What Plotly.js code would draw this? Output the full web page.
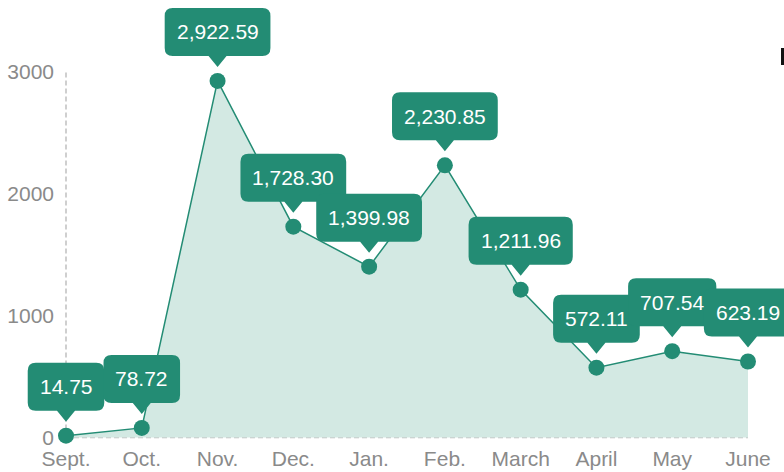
<!DOCTYPE html>
<html>
<head>
<meta charset="utf-8">
<script src="https://cdn.plot.ly/plotly-3.0.1.min.js"></script>
<style>html,body{margin:0;padding:0;background:#fff;}#chart{width:784px;height:472px;}</style>
</head>
<body>
<div id="chart"></div>
<script>
const months = ['Sept.','Oct.','Nov.','Dec.','Jan.','Feb.','March','April','May','June'];
const values = [14.75, 78.72, 2922.59, 1728.30, 1399.98, 2230.85, 1211.96, 572.11, 707.54, 623.19];
const yTicks = [0, 1000, 2000, 3000];

const TEAL = '#238c74';
const FILL = '#d3e9e3';
const FONT = 'Liberation Sans, Arial, sans-serif';
const LABEL_SIZE = 21;

const labels = values.map(v => v.toLocaleString('en-US', {minimumFractionDigits: 2, maximumFractionDigits: 2}));

const W = 784, H = 472;
const xLeftPx = 66, xRightPx = 748, y0Px = 437.5, y3000Px = 71.5;
const pxPerCat = (xRightPx - xLeftPx) / (months.length - 1);
const pxPerUnit = (y0Px - y3000Px) / yTicks[yTicks.length - 1];
const xRange = [-xLeftPx / pxPerCat, (months.length - 1) + (W - xRightPx) / pxPerCat];
const yRange = [-(H - y0Px) / pxPerUnit, y0Px / pxPerUnit];

const ctx = document.createElement('canvas').getContext('2d');
ctx.font = LABEL_SIZE + 'px "Liberation Sans"';

const shapes = [];
const annotations = [];
// dashed axis lines
shapes.push({type:'line', xref:'x', yref:'y', x0:months[0], x1:months[0], y0:yTicks[0], y1:yTicks[yTicks.length-1],
  line:{color:'#c0c0c0', width:1.5, dash:'5px,3px'}, layer:'below'});
shapes.push({type:'line', xref:'x', yref:'y', x0:months[0], x1:months[months.length-1], y0:0, y1:0,
  line:{color:'#c0c0c0', width:1.5, dash:'5px,3px'}, layer:'below'});
// cut-off legend mark at top right
shapes.push({type:'rect', xref:'paper', yref:'paper', x0:781/W, x1:1.01, y0:1-65/H, y1:1-48/H,
  fillcolor:'#111', line:{width:0}});

function callout(hw) {
  const r = 8, top = 73, bot = 25, tip = 14, pw = 9;
  return `M ${-hw+r},${top} L ${hw-r},${top} Q ${hw},${top} ${hw},${top-r} L ${hw},${bot+r} Q ${hw},${bot} ${hw-r},${bot} ` +
         `L ${pw},${bot} L 0,${tip} L ${-pw},${bot} L ${-hw+r},${bot} Q ${-hw},${bot} ${-hw},${bot+r} ` +
         `L ${-hw},${top-r} Q ${-hw},${top} ${-hw+r},${top} Z`;
}

months.forEach((m, i) => {
  const tw = ctx.measureText(labels[i]).width;
  const hw = tw / 2 + 12;
  shapes.push({type:'path', xref:'x', yref:'y', xsizemode:'pixel', ysizemode:'pixel',
    xanchor:m, yanchor:values[i], path:callout(hw), fillcolor:TEAL, line:{width:0}, layer:'above'});
  annotations.push({x:m, y:values[i], xref:'x', yref:'y', text:labels[i], showarrow:false,
    yshift:49, xanchor:'center', yanchor:'middle', font:{family:FONT, size:LABEL_SIZE, color:'#ffffff'}});
});

const trace = {
  x: months, y: values, type:'scatter', mode:'lines+markers',
  fill:'tozeroy', fillcolor:FILL,
  line:{color:TEAL, width:1.5},
  marker:{color:TEAL, size:16},
  cliponaxis:false, hoverinfo:'skip'
};

const layout = {
  width: W, height: H,
  margin:{l:0, r:0, t:0, b:0, pad:0},
  paper_bgcolor:'#fff', plot_bgcolor:'rgba(0,0,0,0)',
  showlegend:false,
  font:{family:FONT, size:21, color:'#888'},
  xaxis:{type:'category', range:xRange, anchor:'free', position:(H - y0Px)/H,
    showgrid:false, zeroline:false, showline:false, ticks:'', ticklabelstandoff:6,
    tickfont:{family:FONT, size:21, color:'#8a8a8a'}, automargin:false, fixedrange:true},
  yaxis:{range:yRange, anchor:'free', position:xLeftPx/W, tickvals:yTicks, ticktext:yTicks.map(String),
    showgrid:false, zeroline:false, showline:false, ticks:'', ticklabelstandoff:12,
    tickfont:{family:FONT, size:21, color:'#8a8a8a'}, automargin:false, fixedrange:true},
  shapes: shapes,
  annotations: annotations,
  hovermode:false
};

Plotly.newPlot('chart', [trace], layout, {staticPlot:true, displayModeBar:false});
</script>
</body>
</html>
